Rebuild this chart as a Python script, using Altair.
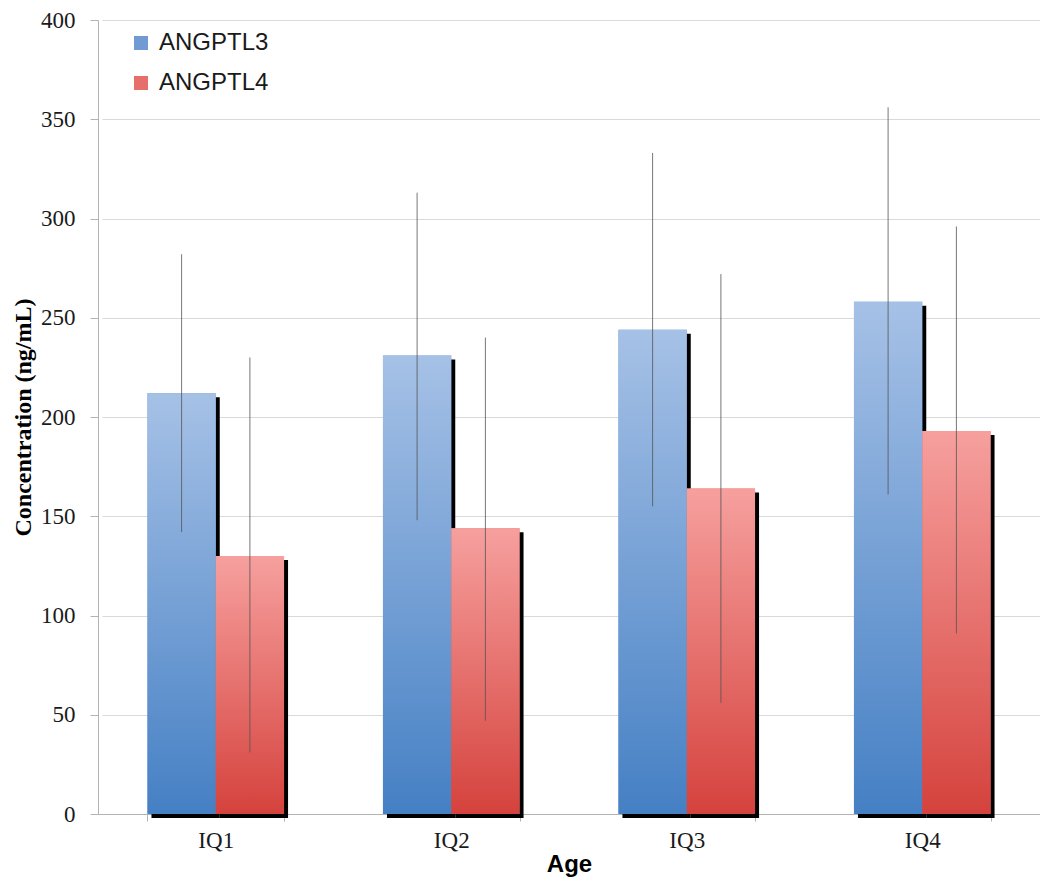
import altair as alt
import pandas as pd

groups = ["IQ1", "IQ2", "IQ3", "IQ4"]
series_names = ["ANGPTL3", "ANGPTL4"]
angptl3 = [212, 231, 244, 258]
angptl4 = [130, 144, 164, 193]
angptl3_low = [142, 148, 155, 161]
angptl3_high = [282, 313, 333, 356]
angptl4_low = [31, 47, 56, 91]
angptl4_high = [230, 240, 272, 296]
y_ticks = [0, 50, 100, 150, 200, 250, 300, 350, 400]

rows = []
for i, g in enumerate(groups):
    rows.append(dict(group=g, series="ANGPTL3", value=angptl3[i], low=angptl3_low[i], high=angptl3_high[i]))
    rows.append(dict(group=g, series="ANGPTL4", value=angptl4[i], low=angptl4_low[i], high=angptl4_high[i]))
df = pd.DataFrame(rows)

W, H = 942, 794
axis_col = "#b3b3b3"
x_axis = alt.Axis(labelAngle=0, tickBand="extent", tickSize=7, labelPadding=8,
                  labelFont="Liberation Serif", labelFontSize=23, labelColor="#1a1a1a",
                  titleFont="Liberation Sans", titleFontSize=24, titleFontWeight="bold",
                  titleColor="#000000", titlePadding=0, grid=False,
                  domainColor=axis_col, tickColor=axis_col)
y_axis = alt.Axis(values=y_ticks, tickSize=8, labelPadding=15,
                  labelFont="Liberation Serif", labelFontSize=23, labelColor="#1a1a1a",
                  titleFont="Liberation Serif", titleFontSize=24, titleFontWeight="bold",
                  titleColor="#000000", titlePadding=5,
                  domainColor=axis_col, tickColor=axis_col, gridColor="#d9d9d9")

x_scale_kw = dict(paddingInner=0.42, paddingOuter=0.21)
x_enc = alt.X("group:N", sort=groups, title="Age", scale=alt.Scale(**x_scale_kw), axis=x_axis)
xo_enc = alt.XOffset("series:N", sort=series_names, scale=alt.Scale(paddingInner=0, paddingOuter=0))
y_scale = alt.Scale(domain=[0, 400], nice=False)
y_enc = alt.Y("value:Q", title="Concentration (ng/mL)", scale=y_scale, axis=y_axis)

base = alt.Chart(df)

# shadow: same bars, x scale shifted a few pixels right
shadow = base.mark_bar(color="black", yOffset=4, y2Offset=-2).encode(
    x=alt.X("group:N", sort=groups, title=None,
            scale=alt.Scale(range=[4, W + 4], **x_scale_kw), axis=None),
    xOffset=alt.XOffset("series:N", sort=series_names, scale=alt.Scale(paddingInner=0, paddingOuter=0)),
    y=y_enc,
)

legend_layer = base.mark_bar().encode(
    x=x_enc, xOffset=xo_enc, y=y_enc,
    color=alt.Color("series:N", sort=series_names,
                    scale=alt.Scale(domain=series_names, range=["#7199d4", "#e66f6c"]),
                    legend=alt.Legend(title=None, orient="none", legendX=31, legendY=11,
                                      symbolType="square", symbolSize=196, symbolStrokeWidth=0,
                                      labelFont="Liberation Sans", labelFontSize=24,
                                      labelColor="#1a1a1a", labelOffset=6, rowPadding=16,
                                      padding=0, symbolOpacity=1)),
)

blue_grad = alt.LinearGradient(gradient="linear", x1=0, x2=0, y1=0, y2=1,
                               stops=[alt.GradientStop(color="#a6c1e6", offset=0),
                                      alt.GradientStop(color="#4580c4", offset=1)])
red_grad = alt.LinearGradient(gradient="linear", x1=0, x2=0, y1=0, y2=1,
                              stops=[alt.GradientStop(color="#f6a09e", offset=0),
                                     alt.GradientStop(color="#d5423d", offset=1)])

bars3 = base.transform_filter(alt.datum.series == "ANGPTL3").mark_bar(fill=blue_grad, strokeWidth=0).encode(
    x=x_enc, xOffset=xo_enc, y=y_enc,
)
bars4 = base.transform_filter(alt.datum.series == "ANGPTL4").mark_bar(fill=red_grad, strokeWidth=0).encode(
    x=x_enc, xOffset=xo_enc, y=y_enc,
)

errs = base.mark_rule(color="#555555", strokeWidth=1, opacity=0.8).encode(
    x=x_enc, xOffset=xo_enc,
    y=alt.Y("low:Q", title="Concentration (ng/mL)", scale=y_scale, axis=y_axis),
    y2="high:Q",
)

main = alt.layer(legend_layer, bars3, bars4, errs)

chart = alt.layer(shadow, main).resolve_scale(
    x="independent", xOffset="independent"
).properties(
    width=W, height=H,
    autosize=alt.AutoSizeParams(type="none"),
    padding={"left": 90, "top": 12, "right": 0, "bottom": 64},
).configure_view(stroke=None)

chart.save("out.html", embed_options={"renderer": "svg", "actions": False})
